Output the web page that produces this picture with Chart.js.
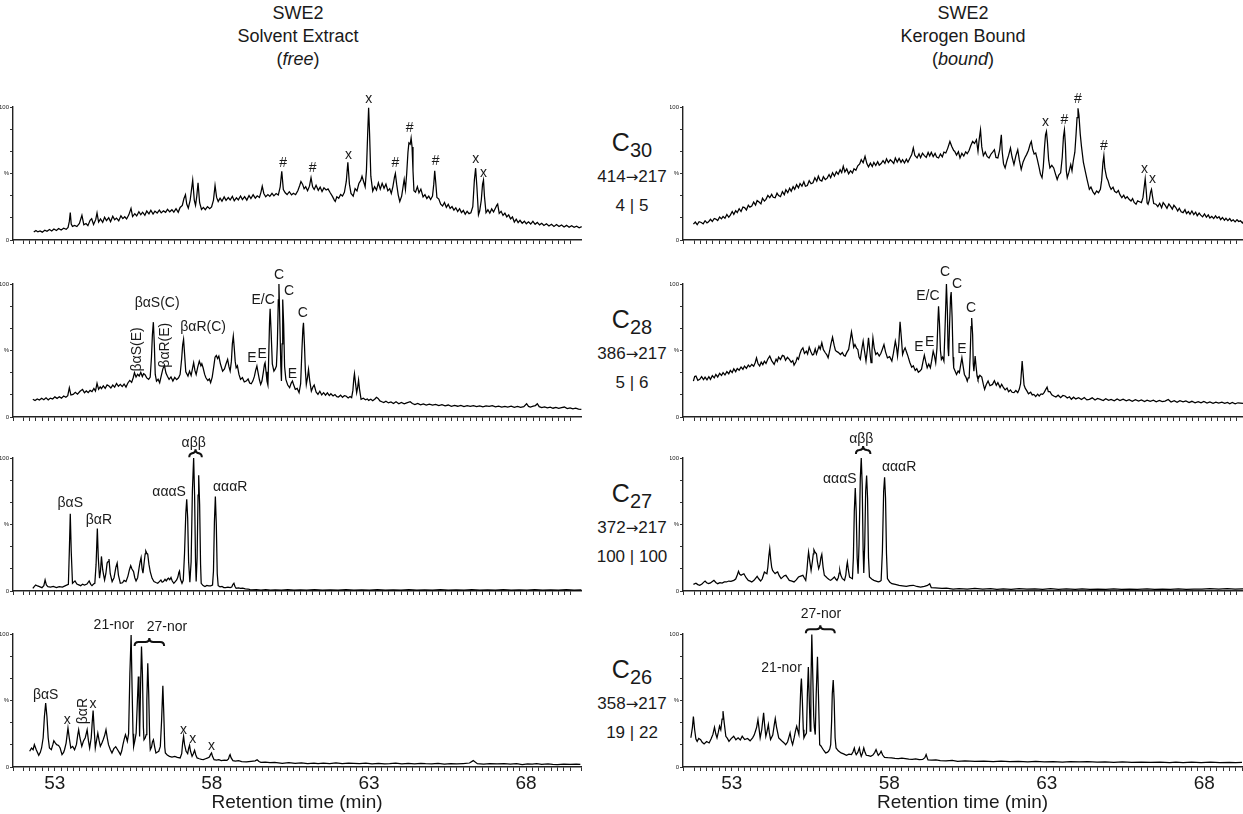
<!DOCTYPE html>
<html>
<head>
<meta charset="utf-8">
<script src="https://cdn.jsdelivr.net/npm/chart.js@4.4.0/dist/chart.umd.min.js"></script>
<style>
    body { margin: 0; background: #fff; width: 1243px; height: 814px; position: relative; overflow: hidden;
           font-family: Arial, "Liberation Sans", sans-serif; color: #1a1a1a; }
    .panel { position: absolute; }
    .txt { position: absolute; white-space: nowrap; text-align: center; transform: translate(-50%, -50%); }
    .title { font-size: 18px; }
    .cmp { font-size: 25px; }
    .cmp sub { font-size: 20px; vertical-align: -6px; }
    .mz { font-size: 17px; }
    .arrow { font-family: "DejaVu Sans", sans-serif; font-size: 15px; }
</style>
</head>
<body>
<script>
// Axis ticks
const timeTicks = [53, 58, 63, 68];
const minorStep = 0.2;
const leftRange = [51.67, 69.75];
const rightRange = [51.45, 69.2];

// Middle column labels
const compounds = ['30', '28', '27', '26'];
const transitions = ['414→217', '386→217', '372→217', '358→217'];
const ratios = ['4 | 5', '5 | 6', '100 | 100', '19 | 22'];

// Traces: [retention time (min), relative abundance (%)]
const freeC30 = [[52.33,6.0],[52.40,7.2],[52.46,6.1],[52.53,6.8],[52.60,5.9],[52.68,7.4],[52.75,6.5],[52.83,7.9],[52.90,6.8],[52.97,8.3],[53.05,7.2],[53.12,8.6],[53.20,7.5],[53.28,8.8],[53.36,8.0],[53.42,9.5],[53.46,14],[53.49,20.6],[53.52,12],[53.56,10.2],[53.63,11],[53.70,10.1],[53.78,12.5],[53.86,18.6],[53.92,11.5],[53.99,12.4],[54.05,10.8],[54.12,14.8],[54.17,16],[54.23,11.6],[54.30,15.5],[54.34,20.4],[54.39,13.5],[54.45,15.9],[54.52,13.2],[54.58,17.1],[54.64,14.6],[54.71,16.7],[54.77,13.8],[54.84,17.9],[54.90,15.2],[54.96,16.5],[55.03,14.4],[55.10,18.2],[55.16,16.1],[55.22,17.5],[55.28,15.8],[55.35,18.9],[55.42,23.8],[55.47,17.6],[55.54,19.8],[55.60,18.1],[55.67,21.3],[55.73,19.0],[55.79,20.9],[55.86,18.6],[55.92,21.8],[55.99,19.7],[56.05,22.4],[56.12,19.5],[56.18,21.7],[56.25,20.3],[56.32,22.5],[56.38,20.4],[56.45,21.9],[56.52,20.8],[56.58,23.1],[56.65,21.2],[56.72,22.8],[56.78,21.0],[56.85,23.6],[56.92,20.8],[56.98,24.5],[57.05,26],[57.10,31],[57.15,34],[57.19,27],[57.24,24],[57.30,30],[57.38,45],[57.43,30],[57.47,26],[57.51,33],[57.55,43],[57.60,28],[57.66,23],[57.72,24.5],[57.78,22.8],[57.85,25.1],[57.92,23.5],[57.98,24.8],[58.04,30],[58.09,41],[58.14,32],[58.19,29],[58.25,31.5],[58.31,29.2],[58.38,32.4],[58.44,29.8],[58.51,31.9],[58.57,30.1],[58.64,32.8],[58.70,29.5],[58.77,31.7],[58.83,30.2],[58.90,33.1],[58.96,30.4],[59.03,32.6],[59.10,30.0],[59.17,33.4],[59.23,31.1],[59.30,34.0],[59.37,31.5],[59.43,33.2],[59.50,32.0],[59.55,36],[59.59,40.5],[59.64,35],[59.70,32.5],[59.77,34.2],[59.83,32.8],[59.90,35.1],[59.96,33.2],[60.03,34.9],[60.10,33.8],[60.16,40],[60.21,51.7],[60.26,38],[60.32,35.5],[60.38,34.2],[60.45,36.3],[60.52,33.9],[60.58,35.2],[60.65,34.1],[60.72,37],[60.78,41],[60.82,44],[60.87,42],[60.92,38.5],[60.97,40],[61.03,37],[61.09,40.5],[61.14,46.8],[61.19,40],[61.24,38],[61.30,41.2],[61.37,37.4],[61.43,39.8],[61.49,36.5],[61.55,39.2],[61.62,37.6],[61.68,38.4],[61.75,35.5],[61.82,32.8],[61.88,30],[61.91,29],[61.96,32.5],[62.02,31.4],[62.08,34.2],[62.14,33.1],[62.20,35.8],[62.26,44],[62.31,58.5],[62.36,42],[62.41,35],[62.48,33],[62.54,38.6],[62.60,36.9],[62.66,42.5],[62.72,44.8],[62.76,48],[62.81,44],[62.86,40],[62.90,52],[62.94,80],[62.97,99.5],[63.00,80],[63.04,48],[63.10,36.8],[63.16,40.1],[63.22,37.5],[63.28,43],[63.34,38.2],[63.40,42.6],[63.46,38.9],[63.52,42.1],[63.58,37],[63.64,38.6],[63.69,35],[63.74,40],[63.79,47],[63.82,50],[63.86,42],[63.91,34],[63.96,29],[64.02,33],[64.07,41],[64.10,45.5],[64.14,38],[64.18,50],[64.22,66],[64.25,73],[64.29,72],[64.32,76.6],[64.35,70],[64.38,52],[64.41,37],[64.46,36],[64.52,40.1],[64.57,35.5],[64.63,38.2],[64.70,32.4],[64.76,34.1],[64.82,31.2],[64.88,33.0],[64.94,30.4],[65.00,33],[65.04,42],[65.07,52],[65.10,44],[65.14,32],[65.20,30.8],[65.26,26.9],[65.32,25.6],[65.38,28.2],[65.44,24.6],[65.50,26.8],[65.56,23.7],[65.62,25.1],[65.68,22.5],[65.74,24.2],[65.80,21.4],[65.86,23.5],[65.92,20.6],[65.98,22.2],[66.04,19.4],[66.10,21.6],[66.16,19.8],[66.22,20.5],[66.28,25],[66.33,45],[66.37,54],[66.41,40],[66.46,19],[66.50,22],[66.55,30],[66.59,42],[66.62,45],[66.65,33],[66.70,20.5],[66.76,22.7],[66.82,20.2],[66.88,23.4],[66.94,21.1],[67.00,24],[67.04,26],[67.07,27],[67.12,20],[67.18,21.6],[67.24,18.5],[67.30,20.2],[67.36,17.4],[67.42,18.9],[67.48,15.9],[67.54,17.3],[67.60,13.5],[67.66,15.6],[67.72,13.1],[67.78,14.8],[67.85,12.6],[67.92,14.1],[67.98,12.2],[68.05,13.7],[68.12,12.0],[68.19,14.0],[68.26,11.8],[68.33,13.2],[68.40,11.4],[68.47,12.6],[68.54,10.9],[68.62,12.2],[68.70,10.6],[68.78,11.9],[68.86,10.2],[68.94,11.6],[69.02,10.1],[69.10,11.3],[69.18,9.8],[69.26,11.0],[69.34,9.6],[69.42,10.8],[69.50,9.5],[69.58,10.4],[69.66,9.2],[69.74,10.0]];

const freeC28 = [[52.30,13.3],[52.37,12.4],[52.44,13.6],[52.51,12.8],[52.58,14.1],[52.65,13.0],[52.72,14.4],[52.79,12.9],[52.86,14.2],[52.93,13.5],[53.00,15.1],[53.07,14.0],[53.14,15.3],[53.21,14.2],[53.28,15.8],[53.35,14.9],[53.41,16],[53.46,22],[53.51,16.5],[53.58,17],[53.65,18.6],[53.72,17.2],[53.80,19.3],[53.88,20.8],[53.94,18.2],[54.00,19.6],[54.06,18.3],[54.12,20],[54.18,19.1],[54.24,21.4],[54.29,19.5],[54.34,25.3],[54.39,20.8],[54.44,22.6],[54.48,21.3],[54.54,23.4],[54.60,21.6],[54.66,24.1],[54.72,23.3],[54.78,21.8],[54.84,24],[54.90,22.5],[54.96,25.2],[55.02,23.1],[55.08,24.5],[55.14,22.9],[55.20,24.8],[55.26,22.5],[55.32,25.6],[55.38,27.5],[55.44,26],[55.49,29.5],[55.53,33.3],[55.58,30],[55.63,32.1],[55.68,30.8],[55.73,33.5],[55.78,30.4],[55.82,32.6],[55.86,32],[55.92,29.4],[55.98,28.3],[56.03,30],[56.07,45],[56.10,62],[56.13,71.3],[56.16,55],[56.19,32],[56.23,27],[56.28,28.4],[56.33,25.8],[56.38,31],[56.43,36],[56.48,39],[56.53,33],[56.58,30.5],[56.63,28.3],[56.69,30.1],[56.75,27],[56.81,29.8],[56.87,28.1],[56.93,29.5],[56.98,32],[57.03,44],[57.06,54],[57.09,58.3],[57.12,48],[57.16,34],[57.23,30.8],[57.28,34.5],[57.33,31.2],[57.37,36],[57.41,40.8],[57.45,35],[57.49,32],[57.54,37.5],[57.59,42],[57.64,38.5],[57.67,40],[57.71,37],[57.76,32],[57.80,29.5],[57.86,27.4],[57.91,28.6],[57.95,25.8],[58.00,30],[58.05,38],[58.09,45],[58.13,46.3],[58.17,44],[58.21,45.8],[58.26,40],[58.33,34.5],[58.39,36.2],[58.44,40],[58.49,43.3],[58.53,38],[58.57,34.5],[58.61,42],[58.64,55],[58.67,60.8],[58.70,52],[58.73,42],[58.76,37],[58.80,38.5],[58.85,32],[58.90,28.3],[58.96,29.6],[59.02,26.4],[59.08,27],[59.14,28.6],[59.19,25.5],[59.24,25],[59.29,27],[59.34,30.5],[59.38,35],[59.42,38.3],[59.46,33],[59.50,28],[59.54,24.5],[59.58,27],[59.62,33],[59.66,39.5],[59.68,40.8],[59.71,34],[59.74,27],[59.77,24],[59.79,40],[59.82,70],[59.84,81.3],[59.87,65],[59.91,40],[59.96,34.5],[60.00,36],[60.04,38.3],[60.07,55],[60.10,88],[60.12,100],[60.15,70],[60.18,38],[60.20,27],[60.22,55],[60.24,88.3],[60.27,70],[60.30,38],[60.34,28.3],[60.40,24],[60.46,22],[60.51,25.5],[60.55,27],[60.59,24],[60.64,20.8],[60.70,21.5],[60.76,18.3],[60.81,25],[60.85,50],[60.88,66],[60.90,70.8],[60.93,55],[60.96,35],[60.99,24.5],[61.03,30],[61.06,35.8],[61.10,27],[61.15,19.5],[61.20,22.6],[61.24,24],[61.30,18.8],[61.36,17],[61.42,19.4],[61.48,16.6],[61.54,18.3],[61.60,16.4],[61.66,18.2],[61.72,16.1],[61.77,17.5],[61.84,15.8],[61.90,16.9],[61.96,15.3],[62.01,15],[62.08,16.4],[62.14,14.8],[62.20,16.1],[62.25,15.8],[62.32,14.3],[62.38,15.4],[62.43,14.5],[62.47,20],[62.50,29],[62.52,32.5],[62.55,26],[62.59,18.3],[62.62,22],[62.65,27.8],[62.68,21],[62.73,13.3],[62.80,14.1],[62.87,12.9],[62.93,13.6],[62.97,12.5],[63.04,13.3],[63.10,12.2],[63.17,13.5],[63.22,14.8],[63.27,14],[63.33,12.1],[63.39,11.5],[63.45,10.8],[63.52,11.9],[63.60,10.6],[63.68,11.3],[63.76,10.2],[63.84,11.4],[63.93,10],[64.01,10.9],[64.10,9.9],[64.18,10.6],[64.29,11.5],[64.36,10.1],[64.44,9.3],[64.53,10.2],[64.62,9.1],[64.71,9.8],[64.80,8.9],[64.90,9.6],[65.00,9],[65.10,9.5],[65.20,8.6],[65.30,9.2],[65.40,8.4],[65.50,9.0],[65.60,8],[65.70,8.7],[65.80,8.1],[65.90,8.8],[66.00,7.9],[66.10,8.5],[66.20,8],[66.30,8.6],[66.40,7.8],[66.50,8.4],[66.60,7.7],[66.70,8.3],[66.80,8],[66.90,8.5],[67.00,7.6],[67.10,8.2],[67.20,7.4],[67.30,8.0],[67.39,7.5],[67.50,8.1],[67.60,7.3],[67.70,7.9],[67.80,7.2],[67.90,7.8],[67.99,10],[68.05,8],[68.11,7.5],[68.20,8.2],[68.27,8.6],[68.33,10],[68.39,7.8],[68.47,7],[68.56,7.6],[68.65,6.8],[68.74,7.4],[68.83,6.6],[68.92,7.2],[69.01,6.5],[69.10,7.1],[69.19,7.5],[69.28,6.4],[69.37,6.9],[69.46,6.1],[69.55,6.6],[69.64,5.9],[69.73,5.8]];

const freeC27 = [[52.30,2],[52.35,3.5],[52.39,4.5],[52.45,3.8],[52.51,3.3],[52.59,2.5],[52.65,4],[52.69,8.3],[52.73,4.5],[52.78,3.3],[52.86,2.9],[52.95,3.4],[53.05,2.5],[53.14,3.2],[53.24,2.9],[53.34,4],[53.43,5],[53.46,30],[53.49,58],[53.52,30],[53.56,5.8],[53.64,7.6],[53.70,5.2],[53.76,4.6],[53.82,4],[53.88,5.1],[53.94,4.5],[54.02,5.2],[54.09,7.6],[54.14,5],[54.18,4],[54.23,5.2],[54.27,5.8],[54.31,20],[54.35,47],[54.38,25],[54.42,9.6],[54.45,15],[54.48,26],[54.52,16],[54.55,12],[54.58,8.3],[54.62,13],[54.66,21],[54.69,22],[54.72,24],[54.76,13],[54.82,7.1],[54.88,10],[54.94,18],[54.98,21],[55.02,12],[55.08,5.8],[55.15,6.2],[55.20,8],[55.26,7.1],[55.32,11],[55.37,16],[55.41,19],[55.45,16.5],[55.50,14.6],[55.54,10],[55.58,7.6],[55.63,10],[55.68,18],[55.71,22],[55.74,25],[55.77,17],[55.80,13.4],[55.84,22],[55.87,28],[55.89,30],[55.92,28.5],[55.95,27.8],[55.99,20],[56.03,14.6],[56.09,9.5],[56.15,7.1],[56.21,6.4],[56.27,5.8],[56.32,7],[56.37,8.3],[56.41,6.6],[56.45,7.1],[56.50,8.8],[56.54,7.6],[56.58,9],[56.61,9.6],[56.65,8.5],[56.69,10.1],[56.73,7.5],[56.78,5.8],[56.82,6.9],[56.87,8.3],[56.91,10.5],[56.94,14],[56.96,15],[56.99,9],[57.04,5.8],[57.08,8],[57.12,28],[57.16,58],[57.19,69],[57.22,55],[57.25,22],[57.29,6.6],[57.33,22],[57.37,75],[57.41,100],[57.44,72],[57.47,22],[57.49,7.1],[57.52,25],[57.55,72],[57.57,87],[57.60,65],[57.63,20],[57.65,5.8],[57.71,4.1],[57.77,3.3],[57.83,4.2],[57.89,3.8],[57.95,3.9],[58.01,4.5],[58.04,15],[58.07,52],[58.10,71],[58.13,50],[58.16,13],[58.19,4],[58.25,3.1],[58.31,3.4],[58.37,2.6],[58.43,2.5],[58.50,2.9],[58.57,2.5],[58.62,3],[58.66,5],[58.69,5.8],[58.72,3.6],[58.76,2],[58.83,2.4],[58.90,2],[58.97,2.2],[59.05,1.6],[59.14,1.5],[59.20,1.1],[59.26,0.8],[59.40,1.1],[59.55,0.7],[59.70,1],[59.85,0.6],[60.00,0.9],[60.20,0.7],[60.40,1],[60.60,0.6],[60.80,0.9],[61.00,0.7],[61.25,1],[61.50,0.6],[61.75,0.9],[62.00,0.7],[62.25,1.0],[62.50,0.6],[62.75,0.9],[63.00,0.7],[63.25,1.0],[63.50,0.6],[63.75,0.9],[64.00,0.7],[64.25,1.1],[64.50,0.6],[64.75,0.9],[65.00,0.7],[65.25,1.0],[65.50,0.6],[65.75,0.9],[66.00,0.7],[66.25,1],[66.50,0.6],[66.75,0.9],[67.00,0.7],[67.25,1.0],[67.50,0.6],[67.75,0.9],[68.00,0.7],[68.25,1.0],[68.50,0.6],[68.75,0.9],[69.00,0.7],[69.25,1.0],[69.50,0.6],[69.73,0.8]];

const freeC26 = [[52.20,11.8],[52.26,14.3],[52.31,13],[52.35,16.8],[52.41,13],[52.49,8.8],[52.54,11],[52.58,14.3],[52.63,22],[52.67,38],[52.71,48],[52.75,38],[52.79,22],[52.83,14.3],[52.89,13],[52.94,17],[52.97,19.8],[53.02,18],[53.06,16.8],[53.12,16.2],[53.17,14.3],[53.23,9.3],[53.28,11],[53.31,13],[53.36,18],[53.42,29.3],[53.46,22],[53.51,14.3],[53.57,15.5],[53.63,13],[53.69,17],[53.73,24],[53.76,28],[53.80,22],[53.86,15.5],[53.91,19.3],[53.97,22],[54.03,28],[54.07,20],[54.11,14.3],[54.16,22],[54.19,33],[54.22,42.5],[54.25,30],[54.29,14.3],[54.33,20],[54.37,25.5],[54.41,20],[54.45,15.5],[54.50,18],[54.54,20.5],[54.59,24],[54.63,28],[54.67,22],[54.71,16.8],[54.77,13],[54.82,10.5],[54.88,13.8],[54.94,15.2],[55.00,13],[55.05,11],[55.09,9.3],[55.13,12],[55.17,16.8],[55.21,21],[55.25,24.3],[55.28,22],[55.31,19.3],[55.35,25],[55.39,70],[55.43,99.3],[55.46,60],[55.49,25],[55.51,15.5],[55.55,20],[55.59,25.5],[55.63,50],[55.66,68],[55.68,50],[55.70,23],[55.73,60],[55.76,90.5],[55.79,70],[55.82,30],[55.84,20.5],[55.88,22],[55.91,24.3],[55.93,50],[55.96,78],[55.99,55],[56.02,22],[56.04,13],[56.08,15],[56.11,19],[56.14,20.5],[56.18,15],[56.22,10.5],[56.27,11.3],[56.31,11.8],[56.36,15.5],[56.40,35],[56.44,61],[56.47,40],[56.50,15],[56.52,10.5],[56.58,9],[56.65,8],[56.73,7.5],[56.82,8],[56.90,7.2],[56.99,6.8],[57.04,10],[57.07,18],[57.10,23],[57.13,17],[57.18,11.8],[57.23,10],[57.26,14],[57.29,16.3],[57.32,12],[57.37,8],[57.41,10],[57.45,12.5],[57.49,9],[57.53,6.8],[57.60,6.2],[57.67,5.8],[57.73,5.5],[57.80,6.2],[57.87,6.8],[57.92,7.5],[57.96,9.5],[57.99,10.5],[58.02,8],[58.07,5.5],[58.15,5.2],[58.22,5.6],[58.30,4.8],[58.40,5.1],[58.48,5],[58.53,6],[58.56,8.5],[58.58,9.3],[58.61,7],[58.67,4.8],[58.75,4.4],[58.85,4.7],[58.95,4.1],[59.10,3.8],[59.25,4.2],[59.38,4.6],[59.44,5.5],[59.50,4.1],[59.56,3.5],[59.70,3.6],[59.85,3.2],[60.00,3.4],[60.24,2.8],[60.45,3.2],[60.65,2.7],[60.85,3.1],[61.05,2.6],[61.25,3.0],[61.38,2.5],[61.55,2.9],[61.75,2.6],[61.95,3.1],[62.15,2.5],[62.35,2.9],[62.52,2.8],[62.70,2.5],[62.90,3.0],[63.10,2.4],[63.30,2.8],[63.50,2.4],[63.66,2.5],[63.85,2.9],[64.05,2.3],[64.25,2.7],[64.45,2.4],[64.65,2.8],[64.80,2.5],[65.00,2.3],[65.20,2.7],[65.40,2.2],[65.60,2.6],[65.80,2.3],[66.00,2.6],[66.20,3],[66.32,4.8],[66.45,2.5],[66.65,2.2],[66.85,2.6],[67.08,2.3],[67.30,2.6],[67.50,2.2],[67.70,2.5],[67.88,1.8],[68.05,2.3],[68.20,2.1],[68.34,2.6],[68.50,2.0],[68.70,2.3],[68.85,1.9],[69.00,1.8],[69.20,2.2],[69.40,1.9],[69.60,2.1],[69.73,1.9]];

const boundC30 = [[51.78,11.9],[51.84,13.5],[51.90,11.5],[51.96,13.8],[52.03,13.2],[52.09,12.1],[52.15,14.5],[52.21,12.8],[52.26,13.7],[52.32,15.6],[52.38,13.9],[52.44,16.2],[52.49,15.7],[52.55,14.6],[52.61,17.3],[52.67,15.9],[52.72,17.7],[52.78,16.4],[52.84,19.2],[52.90,17.1],[52.95,18.7],[53.01,21.4],[53.06,19.3],[53.12,22.1],[53.17,20.6],[53.23,23.5],[53.29,21.4],[53.35,24.8],[53.40,24.4],[53.46,22.6],[53.52,26.2],[53.57,24.7],[53.63,25.6],[53.69,28.5],[53.75,26.3],[53.80,29.7],[53.86,28.6],[53.92,27.2],[53.97,31.4],[54.03,29.3],[54.08,30.6],[54.14,33.5],[54.20,31.8],[54.26,34.3],[54.31,32.1],[54.37,31.8],[54.43,35.2],[54.48,33.4],[54.54,32.6],[54.60,36.4],[54.66,34.1],[54.71,37.8],[54.77,35.6],[54.83,38.9],[54.88,36.7],[54.94,40.1],[54.99,38.1],[55.05,41.6],[55.11,39.2],[55.16,42.5],[55.22,40.5],[55.28,43.8],[55.33,40.4],[55.39,41],[55.45,44.6],[55.51,42.3],[55.57,43],[55.63,46.8],[55.69,44.2],[55.74,48],[55.79,45.1],[55.85,44.3],[55.90,47.6],[55.96,45.4],[56.02,46.5],[56.08,49.2],[56.13,46.8],[56.19,50.6],[56.25,48],[56.31,51.3],[56.37,49.4],[56.43,52.8],[56.48,50.7],[56.53,55.5],[56.58,51.2],[56.64,53.4],[56.70,49.8],[56.76,52.1],[56.82,50.4],[56.87,53.6],[56.93,52.5],[56.99,55.8],[57.05,57.2],[57.10,60.4],[57.16,58.1],[57.22,62.9],[57.28,57.3],[57.33,55],[57.39,57.8],[57.45,55.2],[57.50,58.4],[57.56,56],[57.62,58.9],[57.67,56.3],[57.73,57.5],[57.79,59.7],[57.85,57.6],[57.90,61],[57.96,58.2],[58.02,60.3],[58.07,59.2],[58.13,57.6],[58.18,61.7],[58.24,58.6],[58.30,61.3],[58.36,58.4],[58.41,60.4],[58.47,57.9],[58.53,60.8],[58.58,58.5],[58.64,61.5],[58.70,64.2],[58.75,69.2],[58.80,63.5],[58.87,61.7],[58.93,64.8],[58.98,61.9],[59.04,65.3],[59.10,63.4],[59.16,62.1],[59.22,65.8],[59.27,63.2],[59.32,65.9],[59.38,62.7],[59.44,65.1],[59.49,62.4],[59.55,61.7],[59.61,64.6],[59.67,62.5],[59.72,66.1],[59.78,65.4],[59.84,68.9],[59.91,74.1],[59.97,70.3],[60.03,67.2],[60.06,66.7],[60.12,63.8],[60.18,66.4],[60.23,61.7],[60.29,65.2],[60.35,63.1],[60.41,66.3],[60.46,64.9],[60.52,67.5],[60.57,70.8],[60.63,74.1],[60.69,72.6],[60.75,75.4],[60.80,66.7],[60.84,76],[60.88,82.8],[60.92,70],[60.97,63.4],[61.03,66.2],[61.09,62.8],[61.15,61.7],[61.21,64.5],[61.27,66.3],[61.32,67.9],[61.37,62.1],[61.43,61.7],[61.49,68],[61.52,75],[61.54,79.1],[61.57,66],[61.61,57.2],[61.66,54.2],[61.72,59.8],[61.77,63.6],[61.83,69.2],[61.88,62.4],[61.94,56.7],[62.00,63.3],[62.06,67.9],[62.11,60.2],[62.17,53],[62.23,58.7],[62.29,62.1],[62.34,64.2],[62.40,67.5],[62.45,71.8],[62.49,74.1],[62.53,68.5],[62.58,64.7],[62.63,65.4],[62.68,60.6],[62.74,54.2],[62.78,49.5],[62.83,46.8],[62.87,55],[62.91,70],[62.94,79],[62.97,81.6],[63.00,74],[63.04,60],[63.08,54.2],[63.14,56.1],[63.20,54.2],[63.25,50.1],[63.31,45.5],[63.36,48.9],[63.42,50.5],[63.47,62],[63.51,78],[63.54,82.8],[63.57,72],[63.60,52],[63.63,46.8],[63.68,50.8],[63.74,56.7],[63.78,52.1],[63.82,59.2],[63.87,66],[63.91,80],[63.94,92],[63.97,99],[64.00,94],[64.04,80],[64.08,70.4],[64.14,58.6],[64.20,51.7],[64.26,45.2],[64.33,38.1],[64.38,39.8],[64.44,36.4],[64.50,34.3],[64.56,36.9],[64.62,35.6],[64.68,38.1],[64.72,45],[64.76,58],[64.79,63.4],[64.82,54],[64.85,50.2],[64.88,46.8],[64.92,44.8],[64.97,40.6],[65.02,38.1],[65.08,39.7],[65.13,36.6],[65.19,35.6],[65.25,37.2],[65.30,34.1],[65.36,31.8],[65.42,33.7],[65.47,31.2],[65.53,32.5],[65.59,30.6],[65.65,29.3],[65.70,31.1],[65.75,28.2],[65.81,26.9],[65.86,29.5],[65.92,28.8],[65.98,28.1],[66.03,32],[66.07,40],[66.10,46],[66.13,38],[66.16,28],[66.19,26.9],[66.23,30],[66.27,36],[66.30,38.1],[66.33,33],[66.37,27.4],[66.44,26.9],[66.50,25.1],[66.56,27.6],[66.62,24.3],[66.67,28.1],[66.73,26.2],[66.79,23.8],[66.85,27.1],[66.90,25.4],[66.96,23.2],[67.01,26.1],[67.07,24.4],[67.13,21.8],[67.18,23.9],[67.24,21.2],[67.30,20.6],[67.36,22.8],[67.41,19.9],[67.47,21.4],[67.52,19.4],[67.58,21.8],[67.64,19.1],[67.70,20.9],[67.75,18.3],[67.81,20.2],[67.86,18.7],[67.92,17.4],[67.98,19.6],[68.04,17.1],[68.10,18.9],[68.15,16.6],[68.21,17.7],[68.27,16.1],[68.33,18.2],[68.38,16.4],[68.44,17.5],[68.49,15.3],[68.55,16.9],[68.61,14.8],[68.66,16.3],[68.72,14.6],[68.78,16.1],[68.83,14.2],[68.89,15.2],[68.95,13.6],[69.01,15.3],[69.06,13.9],[69.12,14.4],[69.18,12.8],[69.22,14.2]];

const boundC28 = [[51.78,27],[51.82,30.5],[51.86,30.8],[51.92,27.6],[51.98,28.3],[52.04,30.4],[52.10,28.1],[52.15,30],[52.21,27.9],[52.27,30.3],[52.32,28.3],[52.38,31.1],[52.44,29.4],[52.49,32],[52.55,30.1],[52.61,32.8],[52.67,31.2],[52.72,33.3],[52.78,31.6],[52.84,34.1],[52.90,32.5],[52.95,35],[53.01,33.4],[53.06,36.2],[53.12,34.1],[53.17,36.5],[53.23,35.2],[53.29,37.6],[53.35,35.9],[53.40,38.3],[53.46,36.6],[53.52,39.1],[53.57,37.7],[53.63,39.5],[53.69,38.2],[53.74,41],[53.78,44.5],[53.83,40],[53.88,38.3],[53.93,41.2],[53.98,39.4],[54.03,42],[54.08,40.3],[54.14,43.6],[54.20,45.8],[54.26,42.4],[54.34,39.5],[54.40,43.5],[54.44,41.8],[54.48,45],[54.54,43.2],[54.60,46.3],[54.65,45.8],[54.70,42.6],[54.76,44.9],[54.82,43.3],[54.88,41.2],[54.93,42.4],[54.97,39],[55.03,41.5],[55.07,44.6],[55.11,43.3],[55.16,47.8],[55.20,50.4],[55.25,52],[55.30,47.8],[55.36,49.5],[55.40,47.3],[55.45,52.5],[55.50,49.2],[55.55,46.6],[55.59,47],[55.64,51.2],[55.68,47.4],[55.71,49.5],[55.76,53.2],[55.80,51],[55.85,55.8],[55.90,50.6],[55.96,48.3],[56.01,46.7],[56.05,44.5],[56.10,50],[56.14,55],[56.19,60],[56.24,54],[56.28,50.2],[56.31,49.5],[56.37,48.6],[56.44,47],[56.50,48.5],[56.55,46.2],[56.59,45.8],[56.64,48.4],[56.70,50.8],[56.75,58],[56.79,64],[56.83,58],[56.86,52.4],[56.90,54.5],[56.95,51.8],[56.99,50.8],[57.03,45],[57.07,43.3],[57.11,50],[57.16,57],[57.20,50],[57.25,42],[57.29,50],[57.33,59.5],[57.37,50],[57.41,40.8],[57.44,50],[57.47,59.5],[57.51,52],[57.56,47],[57.61,48.3],[57.67,45.8],[57.72,47.7],[57.77,51],[57.82,54.5],[57.87,49],[57.93,44.5],[58.00,45.4],[58.07,42],[58.12,48],[58.18,57],[58.22,52],[58.25,45.8],[58.29,55],[58.33,71.5],[58.37,60],[58.41,47],[58.45,50],[58.49,52],[58.54,48.5],[58.58,45.8],[58.64,41],[58.70,37.5],[58.75,38.5],[58.81,35],[58.86,36.3],[58.91,33.6],[58.96,34.5],[59.01,36],[59.06,42],[59.10,46.5],[59.14,42],[59.19,37],[59.24,39.8],[59.29,37],[59.33,42],[59.38,49.5],[59.42,46],[59.46,40.8],[59.50,52],[59.53,72],[59.55,83.3],[59.58,70],[59.61,50],[59.64,43.3],[59.68,45],[59.72,42],[59.76,70],[59.80,100],[59.83,80],[59.85,52],[59.87,45.8],[59.90,70],[59.93,90],[59.95,94],[59.98,75],[60.01,45],[60.03,37],[60.08,34.2],[60.12,32],[60.17,34.6],[60.21,33.3],[60.25,39],[60.29,44.5],[60.33,38],[60.37,32],[60.42,29.8],[60.46,27],[60.49,29.5],[60.52,29.5],[60.55,45],[60.58,68],[60.60,74.5],[60.63,62],[60.65,40],[60.67,34.5],[60.69,40],[60.71,45.8],[60.74,38],[60.77,31],[60.80,28.3],[60.86,31.4],[60.92,30],[60.97,24.5],[61.01,20.8],[61.06,24.2],[61.12,27],[61.18,23.5],[61.26,24.5],[61.32,27.2],[61.38,23.8],[61.43,25.8],[61.50,22.1],[61.55,24.6],[61.60,22.5],[61.66,20.4],[61.72,21.8],[61.77,19],[61.83,20.3],[61.88,18.6],[61.94,18.3],[62.00,19.9],[62.06,18.3],[62.11,21],[62.15,25],[62.18,35],[62.20,42],[62.23,33],[62.26,24],[62.30,21.5],[62.35,19.6],[62.40,17.5],[62.47,18.7],[62.52,16.6],[62.57,17],[62.63,15.4],[62.69,17.2],[62.74,15.8],[62.80,17.4],[62.85,17],[62.90,18.5],[62.95,20.8],[62.99,22.5],[63.03,19],[63.08,19],[63.14,16.7],[63.20,15.8],[63.27,15.1],[63.34,16.4],[63.42,14.5],[63.49,16.2],[63.56,15.8],[63.63,14.3],[63.70,15.2],[63.76,13.3],[63.83,14.9],[63.90,13.6],[63.99,14.5],[64.08,13.1],[64.17,14.6],[64.25,12.9],[64.33,13.3],[64.42,14.4],[64.51,12.7],[64.59,13.9],[64.68,13.3],[64.77,12.4],[64.85,13.8],[64.94,12.5],[65.02,13.3],[65.12,12.2],[65.21,13.6],[65.30,12.3],[65.40,13.4],[65.50,12.1],[65.59,13],[65.69,11.8],[65.79,13.1],[65.89,12.0],[65.98,12.9],[66.08,11.6],[66.16,12.7],[66.26,11.8],[66.36,12.6],[66.45,11.4],[66.55,12.4],[66.64,11.6],[66.73,12],[66.83,13.2],[66.92,11.3],[67.02,12.2],[67.11,11.1],[67.20,12.3],[67.30,11.4],[67.39,12.1],[67.49,10.9],[67.58,11.8],[67.68,10.7],[67.78,11.6],[67.87,10.6],[67.96,11.7],[68.06,10.5],[68.15,11.3],[68.25,10.3],[68.34,11.2],[68.43,10.4],[68.53,11.1],[68.62,10.2],[68.71,10.9],[68.78,10],[68.86,10.9],[68.95,9.9],[69.04,10.7],[69.12,10.5],[69.20,10.2]];

const boundC27 = [[51.78,5],[51.86,5.8],[51.92,4.8],[51.98,4.3],[52.05,5.2],[52.10,6.5],[52.15,7.5],[52.20,6.2],[52.26,5.5],[52.32,6.1],[52.38,7.2],[52.43,8],[52.49,6.4],[52.55,5.5],[52.62,6.3],[52.69,5.9],[52.76,6.8],[52.83,6.8],[52.90,7.5],[52.97,7.2],[53.06,8],[53.12,9],[53.17,12],[53.21,14.8],[53.25,12.5],[53.29,11.8],[53.33,12.4],[53.38,13],[53.45,10],[53.52,8],[53.58,7.4],[53.63,6.8],[53.70,8],[53.75,9.5],[53.80,11],[53.85,9.2],[53.91,7.5],[53.96,9],[54.00,12],[54.03,14.3],[54.07,13.5],[54.11,13],[54.14,18],[54.17,26],[54.20,31.8],[54.23,24],[54.26,18],[54.29,15.5],[54.33,14.2],[54.37,13],[54.41,13.8],[54.45,14.3],[54.50,11.5],[54.56,9.3],[54.62,10.6],[54.66,11.5],[54.71,11.8],[54.76,10],[54.82,8],[54.88,7.6],[54.97,6.8],[55.04,8.4],[55.11,10.5],[55.18,11.2],[55.25,11.8],[55.30,9.6],[55.34,8],[55.38,16],[55.41,25],[55.43,29.3],[55.47,22],[55.51,15.5],[55.55,22],[55.58,28],[55.60,31],[55.64,29],[55.68,28],[55.71,22],[55.75,16.8],[55.79,20],[55.82,25],[55.85,27.5],[55.89,18],[55.93,11.8],[55.99,10.5],[56.04,9.3],[56.09,8.5],[56.13,8],[56.19,9.2],[56.25,10.5],[56.29,9],[56.33,8],[56.37,10],[56.40,13.5],[56.42,15.5],[56.45,12],[56.50,9.3],[56.54,8.6],[56.57,8],[56.61,12],[56.64,19],[56.66,21.8],[56.69,16],[56.73,10.5],[56.78,9.8],[56.82,9.3],[56.85,25],[56.88,60],[56.91,77.5],[56.94,60],[56.97,25],[57.00,13],[57.03,35],[57.07,85],[57.10,100],[57.13,80],[57.16,30],[57.18,13.5],[57.21,35],[57.24,75],[57.27,86.8],[57.30,70],[57.33,25],[57.36,10.5],[57.43,9],[57.50,8],[57.57,7.4],[57.64,6.8],[57.69,7.2],[57.73,8],[57.77,30],[57.81,75],[57.84,85.5],[57.87,70],[57.90,28],[57.93,9.3],[58.00,6.8],[58.07,5.5],[58.18,5],[58.30,4.3],[58.41,3.9],[58.53,3.5],[58.64,4.1],[58.75,4.3],[58.86,3.4],[58.98,3],[59.10,3.5],[59.20,4.2],[59.27,5.5],[59.32,2.5],[59.45,2.4],[59.55,2.2],[59.66,2],[59.80,2.2],[60.01,1.5],[60.20,1.8],[60.46,1.5],[60.70,1.9],[60.95,1.4],[61.20,1.8],[61.40,1.3],[61.60,1.6],[61.85,1.3],[62.10,1.7],[62.35,1.4],[62.60,1.6],[62.85,1.3],[63.10,1.7],[63.35,1.3],[63.60,1.6],[63.88,1.2],[64.10,1.6],[64.35,1.3],[64.60,1.5],[64.85,1.2],[65.10,1.6],[65.35,1.2],[65.60,1.5],[65.85,1.3],[66.16,1.6],[66.40,1.2],[66.65,1.5],[66.90,1.2],[67.15,1.6],[67.40,1.3],[67.65,1.5],[67.90,1.4],[68.15,1.8],[68.43,1.5],[68.70,1.7],[68.95,1.5],[69.20,1.6]];

const boundC26 = [[51.70,22],[51.75,30],[51.78,38],[51.82,28],[51.86,21],[51.90,19.3],[51.95,21.5],[52.01,20.6],[52.06,18.6],[52.12,17.3],[52.20,19.2],[52.28,18.1],[52.34,21],[52.40,24.5],[52.45,29.9],[52.49,25],[52.53,21.9],[52.57,26],[52.61,30.7],[52.65,28],[52.69,36],[52.72,42],[52.76,33],[52.81,23.1],[52.86,21.5],[52.91,19.3],[52.98,21.3],[53.06,23.1],[53.13,20.5],[53.20,21.9],[53.27,20.3],[53.33,23.1],[53.41,20.6],[53.50,21.4],[53.58,19.7],[53.66,21.9],[53.71,24],[53.75,26.9],[53.79,30],[53.83,35.7],[53.86,30],[53.90,21.9],[53.95,28],[54.01,40.7],[54.04,32],[54.08,23.1],[54.12,27],[54.16,31.9],[54.19,26],[54.23,20.6],[54.30,24],[54.35,32],[54.38,36.4],[54.42,30],[54.49,21.9],[54.55,20.5],[54.60,19.3],[54.66,18.1],[54.71,16.8],[54.77,18.8],[54.82,23],[54.85,25.6],[54.89,20],[54.93,16.8],[54.98,22],[55.02,27],[55.06,30.7],[55.10,27],[55.13,24.4],[55.16,40],[55.19,60],[55.21,66.6],[55.24,50],[55.27,28],[55.29,21.9],[55.33,24],[55.37,25.6],[55.40,55],[55.43,75.1],[55.46,50],[55.49,26.9],[55.51,60],[55.54,99.7],[55.57,70],[55.60,38.2],[55.62,30],[55.65,24.4],[55.68,55],[55.72,82.9],[55.75,55],[55.79,16.8],[55.83,15.8],[55.87,14.3],[55.92,12.4],[55.98,10.6],[56.03,11],[56.07,11.8],[56.11,13.5],[56.14,16.8],[56.17,35],[56.19,55],[56.22,65.3],[56.25,50],[56.28,22],[56.31,14.3],[56.38,12.2],[56.47,10.6],[56.55,9.9],[56.64,8.8],[56.72,9.6],[56.80,9.3],[56.85,11.5],[56.89,14.3],[56.92,11],[56.95,9.3],[57.00,11],[57.05,14.3],[57.08,10.5],[57.11,8],[57.15,10.5],[57.19,14.3],[57.23,11],[57.27,8.8],[57.34,8.6],[57.41,8],[57.48,9],[57.54,11],[57.58,13.1],[57.62,10.5],[57.65,8.8],[57.70,10],[57.74,11.8],[57.79,9],[57.85,7.3],[57.95,7],[58.07,6.8],[58.18,6.5],[58.29,6.3],[58.40,6.6],[58.51,6.3],[58.62,6],[58.73,5.8],[58.84,6.1],[58.95,5.5],[59.06,5.7],[59.13,7],[59.17,9.3],[59.21,6.5],[59.23,5.3],[59.35,5.1],[59.48,5.3],[59.62,4.8],[59.80,4.6],[60.00,4.9],[60.17,4.3],[60.40,4.6],[60.72,4.3],[61.00,4.5],[61.30,4.1],[61.55,4.4],[61.82,4],[62.10,4.3],[62.40,3.9],[62.65,4.2],[62.92,3.8],[63.20,4.1],[63.50,3.7],[63.75,4.0],[64.03,3.8],[64.30,4.0],[64.60,3.6],[64.85,3.9],[65.13,3.5],[65.40,3.8],[65.70,3.4],[66.00,3.7],[66.30,3.4],[66.60,3.7],[66.90,3.3],[67.10,3.6],[67.33,3.3],[67.60,3.6],[67.90,3.3],[68.20,3.6],[68.50,3.3],[68.80,3.5],[69.00,3.3],[69.20,3.4]];

// Peak labels: [time, abundance, text, vertical?]
const freeC30Labels = [[62.97,106,'x'],[60.25,58,'#'],[61.19,54,'#'],[62.33,64,'x'],[63.82,58,'#'],[64.27,84,'#'],[65.10,59,'#'],[66.37,60.5,'x'],[66.62,50,'x']];
const freeC28Labels = [[56.25,85.8,'βαS(C)'],[55.62,50.8,'βαS(E)',1],[56.51,54,'βαR(E)',1],[57.71,67.5,'βαR(C)'],[59.26,44,'E'],[59.59,47,'E'],[59.62,87.5,'E/C'],[60.12,106.5,'C'],[60.44,94.5,'C'],[60.88,78,'C'],[60.55,32,'E']];
const freeC27Labels = [[53.49,65.7,'βαS'],[54.40,53,'βαR'],[56.63,74.5,'αααS'],[57.41,111,'αββ'],[58.57,77.8,'αααR']];
const freeC26Labels = [[52.71,54,'βαS'],[53.40,35.5,'x'],[53.89,42,'βαR',1],[54.22,47,'x'],[54.88,107,'21-nor'],[56.57,105.5,'27-nor'],[57.10,28,'x'],[57.39,21,'x'],[57.99,16,'x']];
const boundC30Labels = [[62.94,88.6,'x'],[63.54,89.8,'#'],[63.97,105.7,'#'],[64.79,70.4,'#'],[66.08,53.5,'x'],[66.33,46,'x']];
const boundC28Labels = [[59.21,90.8,'E/C'],[59.76,108.8,'C'],[60.14,100,'C'],[60.58,82,'C'],[58.93,52.8,'E'],[59.27,56.5,'E'],[60.29,50.8,'E']];
const boundC27Labels = [[57.10,114,'αββ'],[56.42,84,'αααS'],[58.30,93,'αααR']];
const boundC26Labels = [[54.58,74,'21-nor'],[55.83,115,'27-nor']];

// Braces: [from time, to time, abundance]
const freeC27Braces = [[57.27, 57.67, 103.5]];
const freeC26Braces = [[55.54, 56.48, 94]];
const boundC27Braces = [[56.93, 57.39, 106]];
const boundC26Braces = [[55.35, 56.27, 103.5]];

// Layout
const rowTops = [107, 284, 458, 634];
const plotH = 133;
const colLeft = [13, 683];
const colWidth = [569, 560];
const yAxisW = 13;
const padTop = 30;
const centerX = 632;
const titleX = [298, 963];

const panels = [
    { row: 0, col: 0, trace: freeC30, labels: freeC30Labels, braces: [] },
    { row: 1, col: 0, trace: freeC28, labels: freeC28Labels, braces: [] },
    { row: 2, col: 0, trace: freeC27, labels: freeC27Labels, braces: freeC27Braces },
    { row: 3, col: 0, trace: freeC26, labels: freeC26Labels, braces: freeC26Braces },
    { row: 0, col: 1, trace: boundC30, labels: boundC30Labels, braces: [] },
    { row: 1, col: 1, trace: boundC28, labels: boundC28Labels, braces: [] },
    { row: 2, col: 1, trace: boundC27, labels: boundC27Labels, braces: boundC27Braces },
    { row: 3, col: 1, trace: boundC26, labels: boundC26Labels, braces: boundC26Braces }
];

const ink = '#1a1a1a';
const fontFamily = 'Arial, "Liberation Sans", sans-serif';

function addText(html, x, y, cls) {
    const d = document.createElement('div');
    d.className = 'txt ' + cls;
    d.style.left = x + 'px';
    d.style.top = y + 'px';
    d.innerHTML = html;
    document.body.appendChild(d);
}

// Peak labels and braces drawn on top of the trace
function labelPlugin(p) {
    return {
        id: 'peakLabels',
        afterDatasetsDraw(chart) {
            const { ctx, scales: { x, y } } = chart;
            ctx.save();
            ctx.fillStyle = ink;
            ctx.font = '14px ' + fontFamily;
            ctx.textAlign = 'center';
            ctx.textBaseline = 'middle';
            p.labels.forEach(([t, v, text, vertical]) => {
                const px = x.getPixelForValue(t);
                const py = y.getPixelForValue(v);
                if (vertical) {
                    ctx.save();
                    ctx.translate(px, py);
                    ctx.rotate(-Math.PI / 2);
                    ctx.fillText(text, 0, 0);
                    ctx.restore();
                } else {
                    ctx.fillText(text, px, py);
                }
            });
            ctx.strokeStyle = '#111';
            ctx.lineWidth = 2;
            p.braces.forEach(([t1, t2, v]) => {
                const a = x.getPixelForValue(t1), b = x.getPixelForValue(t2);
                const py = y.getPixelForValue(v), m = (a + b) / 2, h = 4;
                ctx.beginPath();
                ctx.moveTo(a, py + h);
                ctx.quadraticCurveTo(a, py, a + h, py);
                ctx.lineTo(m - h, py);
                ctx.quadraticCurveTo(m, py, m, py - h);
                ctx.quadraticCurveTo(m, py, m + h, py);
                ctx.lineTo(b - h, py);
                ctx.quadraticCurveTo(b, py, b, py + h);
                ctx.stroke();
            });
            ctx.restore();
        }
    };
}

function makePanel(p) {
    const bottom = p.row === 3;
    const xh = bottom ? 47 : 6;
    const range = p.col ? rightRange : leftRange;

    const wrap = document.createElement('div');
    wrap.className = 'panel';
    wrap.style.left = (colLeft[p.col] - yAxisW) + 'px';
    wrap.style.top = (rowTops[p.row] - padTop) + 'px';
    wrap.style.width = (yAxisW + colWidth[p.col]) + 'px';
    wrap.style.height = (padTop + plotH + xh) + 'px';
    const cv = document.createElement('canvas');
    wrap.appendChild(cv);
    document.body.appendChild(wrap);

    new Chart(cv, {
        type: 'line',
        data: {
            datasets: [{
                data: p.trace,
                borderColor: '#000',
                borderWidth: 1.25,
                pointRadius: 0,
                tension: 0,
                fill: false
            }]
        },
        options: {
            responsive: true,
            maintainAspectRatio: false,
            animation: false,
            events: [],
            layout: { padding: { top: padTop, left: 0, right: 0, bottom: 0 } },
            plugins: {
                legend: { display: false },
                tooltip: { enabled: false }
            },
            scales: {
                x: {
                    type: 'linear',
                    min: range[0],
                    max: range[1],
                    afterFit: (s) => { s.height = xh; },
                    grid: { drawOnChartArea: false, drawTicks: true, tickLength: 4, color: '#333' },
                    border: { display: true, color: '#222', width: 1.4 },
                    ticks: {
                        display: bottom,
                        stepSize: minorStep,
                        autoSkip: false,
                        maxRotation: 0,
                        padding: 1,
                        color: ink,
                        font: { size: 19, family: fontFamily },
                        callback: (v) => {
                            const r = Math.round(v);
                            return Math.abs(v - r) < 0.01 && timeTicks.includes(r) ? String(r) : '';
                        }
                    },
                    title: {
                        display: bottom,
                        text: 'Retention time (min)',
                        color: ink,
                        padding: 0,
                        font: { size: 19, family: fontFamily }
                    }
                },
                y: {
                    min: 0,
                    max: 100,
                    afterFit: (s) => { s.width = yAxisW; },
                    grid: { drawOnChartArea: false, drawTicks: true, tickLength: 3, color: '#333' },
                    border: { display: true, color: '#222', width: 1.4 },
                    ticks: {
                        stepSize: 100 / 6,
                        autoSkip: false,
                        padding: 1,
                        color: ink,
                        font: { size: 6, family: fontFamily },
                        callback: (v) => {
                            if (Math.abs(v - 100) < 0.01) return '100';
                            if (Math.abs(v - 50) < 0.01) return '%';
                            if (Math.abs(v) < 0.01) return '0';
                            return '';
                        }
                    }
                }
            }
        },
        plugins: [labelPlugin(p)]
    });
}

// Column titles
addText('SWE2', titleX[0], 13, 'title');
addText('Solvent Extract', titleX[0], 36, 'title');
addText('(<i>free</i>)', titleX[0], 59, 'title');
addText('SWE2', titleX[1], 13, 'title');
addText('Kerogen Bound', titleX[1], 36, 'title');
addText('(<i>bound</i>)', titleX[1], 59, 'title');

// Middle column: compound, transition, free|bound ratio
compounds.forEach((c, i) => {
    addText('C<sub>' + c + '</sub>', centerX, rowTops[i] + 38, 'cmp');
    addText(transitions[i].replace('→', '<span class="arrow">→</span>'), centerX, rowTops[i] + 70, 'mz');
    addText(ratios[i], centerX, rowTops[i] + 99, 'mz');
});

panels.forEach(makePanel);
</script>
</body>
</html>
